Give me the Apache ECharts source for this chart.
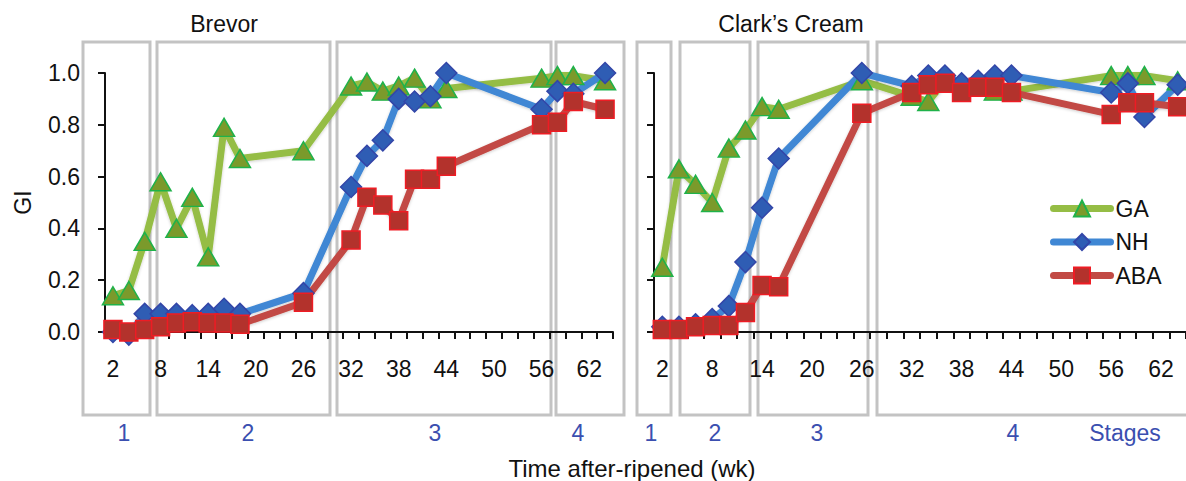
<!DOCTYPE html>
<html>
<head>
<meta charset="utf-8">
<script src="https://cdn.jsdelivr.net/npm/echarts@6/dist/echarts.min.js"></script>
<style>
html,body{margin:0;padding:0;background:#fff;}
#chart{width:1186px;height:481px;}
</style>
</head>
<body>
<div id="chart"></div>
<script>
// ---- data ----
const weeks = ['2','4','6','8','10','12','14','16','18','20','22','24','26','28','30','32',
               '34','36','38','40','42','44','46','48','50','52','54','56','58','60','62','64'];
const yTicks = [0, 0.2, 0.4, 0.6, 0.8, 1.0];

const brevorWeeks = [2,4,6,8,10,12,14,16,18,26,32,34,36,38,40,42,44,56,58,60,64];
const brevorGA  = [0.14,0.16,0.35,0.58,0.40,0.52,0.29,0.79,0.67,0.70,0.95,0.965,0.93,0.95,0.98,0.90,0.94,0.98,0.99,0.99,0.97];
const brevorNH  = [0.00,-0.01,0.07,0.07,0.07,0.065,0.07,0.09,0.07,0.15,0.56,0.68,0.74,0.90,0.89,0.91,1.00,0.86,0.93,0.92,1.00];
const brevorABA = [0.01,0.00,0.01,0.02,0.035,0.04,0.035,0.035,0.03,0.115,0.355,0.52,0.49,0.43,0.59,0.59,0.64,0.80,0.81,0.89,0.86];

const clarkWeeks = [2,4,6,8,10,12,14,16,26,32,34,36,38,40,42,44,56,58,60,64];
const clarkGA  = [0.25,0.63,0.57,0.50,0.71,0.78,0.87,0.86,0.97,0.91,0.89,0.97,0.96,0.96,0.93,0.93,0.99,0.99,0.99,0.97];
const clarkNH  = [0.02,0.02,0.03,0.05,0.10,0.27,0.48,0.67,1.00,0.95,0.99,0.99,0.96,0.97,0.99,0.99,0.925,0.96,0.83,0.955];
const clarkABA = [0.01,0.01,0.02,0.025,0.025,0.075,0.18,0.175,0.845,0.925,0.955,0.96,0.925,0.945,0.945,0.925,0.84,0.885,0.885,0.87];

const panelTitles = ['Brevor', 'Clark\u2019s Cream'];
const stageLabels = ['1','2','3','4','1','2','3','4','Stages'];

// ---- styling ----
const FONT = 'Liberation Sans, Arial, Helvetica, sans-serif';
const FS = 23;
const styles = {
  GA:  {line:'#95bd45', fill:'#7b9a2b', border:'#1fb24a', symbol:'triangle', size:[21,18]},
  NH:  {line:'#3f87d4', fill:'#2f5db4', border:'#3346a8', symbol:'diamond',  size:[21,21]},
  ABA: {line:'#c24a44', fill:'#b3322c', border:'#ee1c24', symbol:'rect',     size:[18,18]}
};

function pairs(ws, vs){ return ws.map((w,i)=>[String(w), vs[i]]); }

function mkSeries(name, idx, data){
  const s = styles[name];
  return {
    name, type:'line', xAxisIndex:idx, yAxisIndex:idx, data,
    symbol:s.symbol, symbolSize:s.size, showAllSymbol:true, animation:false, clip:false,
    lineStyle:{color:s.line, width:7, shadowColor:'rgba(0,0,0,0.2)', shadowBlur:3, shadowOffsetY:1},
    itemStyle:{color:s.fill, borderColor:s.border, borderWidth:1.5},
    emphasis:{disabled:true}
  };
}

function xAxis(idx){
  return {
    type:'category', gridIndex:idx, data:weeks, boundaryGap:true,
    axisLine:{lineStyle:{color:'#111', width:2}},
    axisTick:{show:true, interval:0, alignWithLabel:false, length:7, lineStyle:{color:'#111', width:2}},
    axisLabel:{interval:2, color:'#111', fontSize:FS, fontFamily:FONT, margin:25},
    splitLine:{show:false}
  };
}
function yAxis(idx){
  return {
    type:'value', gridIndex:idx, min:yTicks[0], max:yTicks[yTicks.length-1], interval:0.2,
    axisLine:{show:true, lineStyle:{color:'#111', width:2}},
    axisTick:{show:true, length:7, lineStyle:{color:'#111', width:2}},
    axisLabel:{show: idx===0, color:'#111', fontSize:FS, fontFamily:FONT, margin:25,
               formatter:v=>v.toFixed(1)},
    splitLine:{show:false},
    name: idx===0 ? 'GI' : '', nameLocation:'middle', nameGap:71,
    nameTextStyle:{color:'#111', fontSize:FS, fontFamily:FONT}
  };
}

const boxes = [
  [83,150],[157,330],[337,551],[556,624],
  [637,671],[680,750],[758,868],[877,1200]
];
const stagePos = [124,248,435,578,651,715,817,1013,1125];

const graphic = [];
boxes.forEach(b=>{
  graphic.push({type:'rect', z:-10, silent:true,
    shape:{x:b[0], y:42, width:b[1]-b[0], height:373},
    style:{fill:'none', stroke:'#c3c3c3', lineWidth:3}});
});
stageLabels.forEach((t,i)=>{
  graphic.push({type:'text', x:stagePos[i], y:433, silent:true,
    style:{text:t, fill:'#3b4fb0', font:FS+'px '+FONT, textAlign:'center', textVerticalAlign:'middle'}});
});
graphic.push({type:'text', x:632, y:468, silent:true,
  style:{text:'Time after-ripened (wk)', fill:'#111', font:'24px '+FONT, textAlign:'center', textVerticalAlign:'middle'}});

const chart = echarts.init(document.getElementById('chart'), null, {renderer:'svg'});
chart.setOption({
  backgroundColor:'#fff',
  animation:false,
  title:[
    {text:panelTitles[0], left:224, top:12, padding:0, textAlign:'center', textStyle:{fontSize:FS, fontWeight:'normal', color:'#111', fontFamily:FONT}},
    {text:panelTitles[1], left:791, top:12, padding:0, textAlign:'center', textStyle:{fontSize:FS, fontWeight:'normal', color:'#111', fontFamily:FONT}}
  ],
  grid:[
    {left:105, width:508, top:73, height:259},
    {left:654, width:533, top:73, height:259}
  ],
  xAxis:[xAxis(0), xAxis(1)],
  yAxis:[yAxis(0), yAxis(1)],
  legend:{
    data:['GA','NH','ABA'], orient:'vertical', left:1050, top:197, padding:0,
    itemWidth:57, itemHeight:20, itemGap:10.5,
    lineStyle:{width:7, cap:'round'},
    textStyle:{fontSize:FS, color:'#111', fontFamily:FONT, lineHeight:20},
    selectedMode:false
  },
  graphic,
  series:[
    mkSeries('GA', 0, pairs(brevorWeeks, brevorGA)),
    mkSeries('NH', 0, pairs(brevorWeeks, brevorNH)),
    mkSeries('ABA',0, pairs(brevorWeeks, brevorABA)),
    mkSeries('GA', 1, pairs(clarkWeeks, clarkGA)),
    mkSeries('NH', 1, pairs(clarkWeeks, clarkNH)),
    mkSeries('ABA',1, pairs(clarkWeeks, clarkABA))
  ]
});
</script>
</body>
</html>
